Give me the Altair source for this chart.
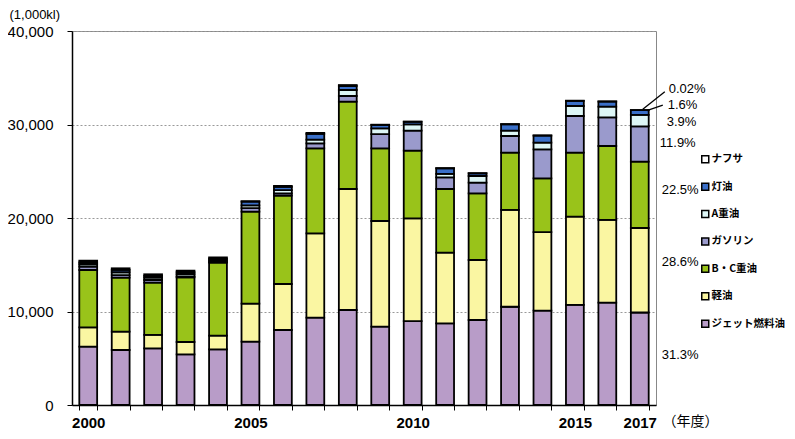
import altair as alt
import pandas as pd

years = [str(y) for y in range(2000, 2018)]

series = ["ジェット燃料油", "軽油", "B・C重油", "ガソリン", "A重油", "灯油", "ナフサ"]
legend_order = ["ナフサ", "灯油", "A重油", "ガソリン", "B・C重油", "軽油", "ジェット燃料油"]
colors = {
    "ナフサ": "#FFFFFF",
    "灯油": "#3A6FC8",
    "A重油": "#DDF6F6",
    "ガソリン": "#9A9ACC",
    "B・C重油": "#99C31A",
    "軽油": "#FAF6A2",
    "ジェット燃料油": "#B89CC8",
}

jet = [6235, 5880, 6060, 5420, 5950, 6780, 8020, 9340, 10160, 8380, 8980, 8740, 9090, 10510, 10090, 10700, 10940, 9891]
diesel = [2075, 1960, 1430, 1320, 1470, 4070, 4920, 9020, 12940, 11300, 10990, 7550, 6420, 10350, 8410, 9440, 8850, 9038]
bc_fuel = [6130, 5780, 5590, 6910, 7800, 9830, 9450, 9090, 9340, 7770, 7230, 6810, 7130, 6130, 5740, 6850, 7910, 7110]
gasoline = [350, 280, 290, 100, 80, 370, 250, 540, 610, 1530, 2140, 1250, 1140, 1780, 3110, 3920, 3070, 3760]
a_fuel = [250, 300, 250, 250, 200, 300, 340, 400, 640, 610, 680, 360, 710, 570, 710, 1070, 1140, 1232]
kerosene = [200, 250, 200, 200, 150, 400, 350, 600, 430, 360, 270, 600, 280, 680, 750, 540, 540, 506]
naphtha = [190, 170, 160, 170, 140, 50, 90, 110, 100, 30, 30, 30, 30, 30, 30, 30, 30, 6]

values = [jet, diesel, bc_fuel, gasoline, a_fuel, kerosene, naphtha]

rows = []
for i, name in enumerate(series):
    for y, v in zip(years, values[i]):
        rows.append({"year": y, "type": name, "value": v, "order": i})
df = pd.DataFrame(rows)

# 2017 share labels
pct_text = ["31.3%", "28.6%", "22.5%", "11.9%", "3.9%", "1.6%", "0.02%"]
pct_y = [5350, 15300, 23000, 28000, 30300, 32100, 33750]
pct_dx = [22, 22, 22, 20, 27, 28, 29]
labels = pd.DataFrame({"year": ["2017"] * 7, "text": pct_text, "ly": pct_y})

# leader lines for the two thinnest segments
leaders = pd.DataFrame({
    "year": ["2017", "2017"],
    "y1": [31620, 31480],
    "y2": [33500, 32080],
})

show = ["2000", "2005", "2010", "2015", "2017"]
label_expr = "indexof(" + str(show).replace(" ", "") + ", datum.label) >= 0 ? datum.label : ''"

x_enc = alt.X(
    "year:O",
    sort=years,
    scale=alt.Scale(paddingInner=0.45, paddingOuter=0.225),
    axis=alt.Axis(
        title="（年度）",
        titleX=590, titleY=16, titleAlign="left", titleBaseline="middle",
        titleFontSize=14, titleFontWeight="normal", titleFont="Noto Sans CJK JP",
        labelAngle=0, labelExpr=label_expr, labelFontSize=15, labelFontWeight="bold",
        labelPadding=5, tickBand="extent", tickSize=5, tickColor="black",
        domainColor="black", domainWidth=1.5, labelColor="black",
    ),
)

bars = alt.Chart(df).mark_bar(stroke="black", strokeWidth=1.8).encode(
    x=x_enc,
    y=alt.Y(
        "sum(value):Q",
        stack="zero",
        scale=alt.Scale(domain=[0, 40000]),
        axis=alt.Axis(
            title="(1,000kl)", titleAngle=0, titleX=-63, titleY=-17,
            titleAlign="left", titleBaseline="middle", titleFontSize=13,
            titleFontWeight="normal", values=[0, 10000, 20000, 30000, 40000],
            format=",d", labelFontSize=15, labelPadding=14, tickSize=5,
            tickColor="black", domainColor="black", domainWidth=1.5,
            grid=True, gridColor="#999999", gridDash=[2, 2], labelColor="black",
        ),
    ),
    color=alt.Color(
        "type:N",
        scale=alt.Scale(domain=legend_order, range=[colors[k] for k in legend_order]),
        legend=alt.Legend(
            title=None, orient="none", legendX=628, legendY=123,
            symbolType="square", symbolSize=49, symbolStrokeColor="black",
            symbolStrokeWidth=1.5, labelFont="Noto Sans CJK JP", labelFontSize=10.5,
            labelFontWeight="bold", rowPadding=13.4, labelOffset=1, padding=0,
            labelColor="black", labelLimit=200,
        ),
    ),
    order=alt.Order("order:Q", sort="ascending"),
)

pct_layers = []
for t, d in zip(pct_text, pct_dx):
    sub = labels[labels["text"] == t]
    pct_layers.append(
        alt.Chart(sub).mark_text(align="left", baseline="middle", fontSize=13, color="black", dx=d).encode(
            x=alt.X("year:O", sort=years), y=alt.Y("ly:Q"), text="text:N"
        )
    )

lead1 = alt.Chart(leaders.iloc[[0]]).mark_rule(color="black", strokeWidth=1.3, xOffset=3, x2Offset=25).encode(
    x=alt.X("year:O", sort=years), x2=alt.X2("year"), y="y1:Q", y2="y2:Q"
)
lead2 = alt.Chart(leaders.iloc[[1]]).mark_rule(color="black", strokeWidth=1.3, xOffset=7, x2Offset=23).encode(
    x=alt.X("year:O", sort=years), x2=alt.X2("year"), y="y1:Q", y2="y2:Q"
)

chart = alt.layer(bars, lead1, lead2, *pct_layers).properties(
    width=584, height=374,
    autosize=alt.AutoSizeParams(type="none"),
    padding={"left": 64, "top": 23, "right": 131, "bottom": 25},
).configure(
    font="Liberation Sans",
).configure_view(
    stroke="#888888", strokeWidth=1,
)

chart.save("out.html", embed_options={"renderer": "svg", "actions": False})
